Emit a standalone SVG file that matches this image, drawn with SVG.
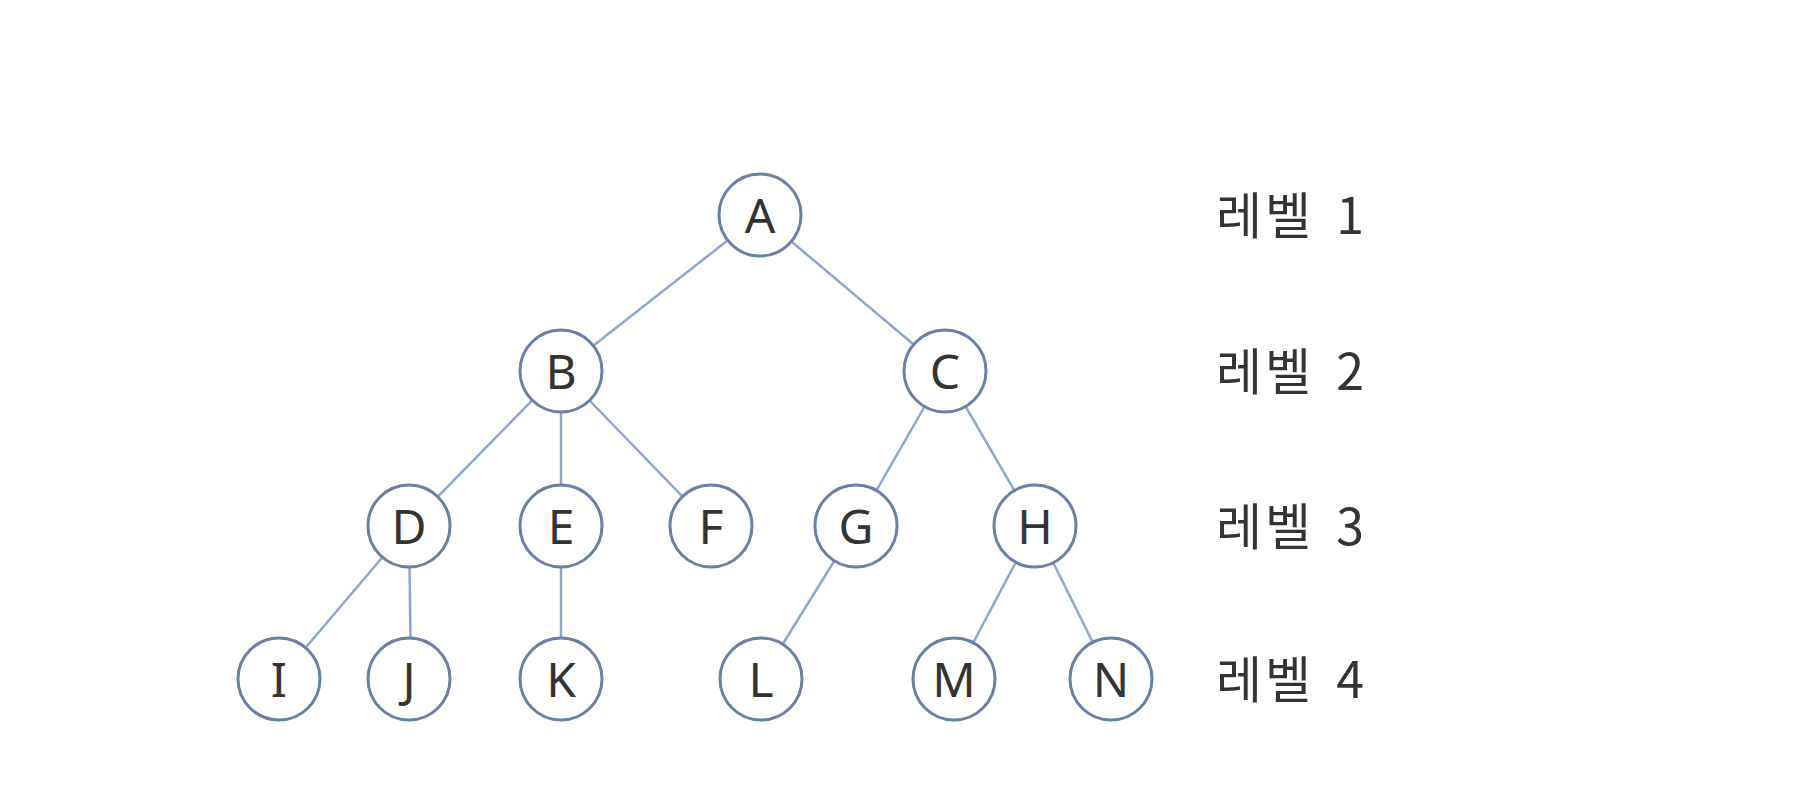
<svg xmlns="http://www.w3.org/2000/svg" width="1816" height="786" viewBox="0 0 1816 786">
<style>
.n circle{fill:#fff;stroke:#6a7fa3;stroke-width:3}
.n text{font-family:"Noto Sans","Open Sans",sans-serif;font-size:48px;fill:#333;text-anchor:middle}
.e line{stroke:#8ea6cc;stroke-width:2.5}
.lv{font-family:"Noto Sans CJK KR","Noto Sans",sans-serif;font-size:50px;fill:#333;letter-spacing:3px;word-spacing:8px}
</style>
<rect width="1816" height="786" fill="#fff"/>
<g id="connectors" class="e">
<line x1="760" y1="215" x2="561" y2="371"/>
<line x1="760" y1="215" x2="945" y2="371"/>
<line x1="561" y1="371" x2="409" y2="526"/>
<line x1="561" y1="371" x2="561" y2="526"/>
<line x1="561" y1="371" x2="711" y2="526"/>
<line x1="945" y1="371" x2="856" y2="526"/>
<line x1="945" y1="371" x2="1035" y2="526"/>
<line x1="409" y1="526" x2="279" y2="679"/>
<line x1="409" y1="526" x2="411" y2="679"/>
<line x1="561" y1="526" x2="561" y2="679"/>
<line x1="856" y1="526" x2="761" y2="679"/>
<line x1="1035" y1="526" x2="954" y2="679"/>
<line x1="1035" y1="526" x2="1111" y2="679"/>
</g>
<g id="A" class="n"><circle cx="760" cy="215" r="41"/><text x="760" y="233">A</text></g>
<g id="B" class="n"><circle cx="561" cy="371" r="41"/><text x="561" y="389">B</text></g>
<g id="C" class="n"><circle cx="945" cy="371" r="41"/><text x="945" y="389">C</text></g>
<g id="D" class="n"><circle cx="409" cy="526" r="41"/><text x="409" y="544">D</text></g>
<g id="E" class="n"><circle cx="561" cy="526" r="41"/><text x="561" y="544">E</text></g>
<g id="F" class="n"><circle cx="711" cy="526" r="41"/><text x="711" y="544">F</text></g>
<g id="G" class="n"><circle cx="856" cy="526" r="41"/><text x="856" y="544">G</text></g>
<g id="H" class="n"><circle cx="1035" cy="526" r="41"/><text x="1035" y="544">H</text></g>
<g id="I" class="n"><circle cx="279" cy="679" r="41"/><text x="279" y="697">I</text></g>
<g id="J" class="n"><circle cx="409" cy="679" r="41"/><text x="409" y="697">J</text></g>
<g id="K" class="n"><circle cx="561" cy="679" r="41"/><text x="561" y="697">K</text></g>
<g id="L" class="n"><circle cx="761" cy="679" r="41"/><text x="761" y="697">L</text></g>
<g id="M" class="n"><circle cx="954" cy="679" r="41"/><text x="954" y="697">M</text></g>
<g id="N" class="n"><circle cx="1111" cy="679" r="41"/><text x="1111" y="697">N</text></g>
<g id="levels">
<text class="lv" x="1216" y="234">레벨 1</text>
<text class="lv" x="1216" y="390">레벨 2</text>
<text class="lv" x="1216" y="545">레벨 3</text>
<text class="lv" x="1216" y="698">레벨 4</text>
</g>
</svg>
